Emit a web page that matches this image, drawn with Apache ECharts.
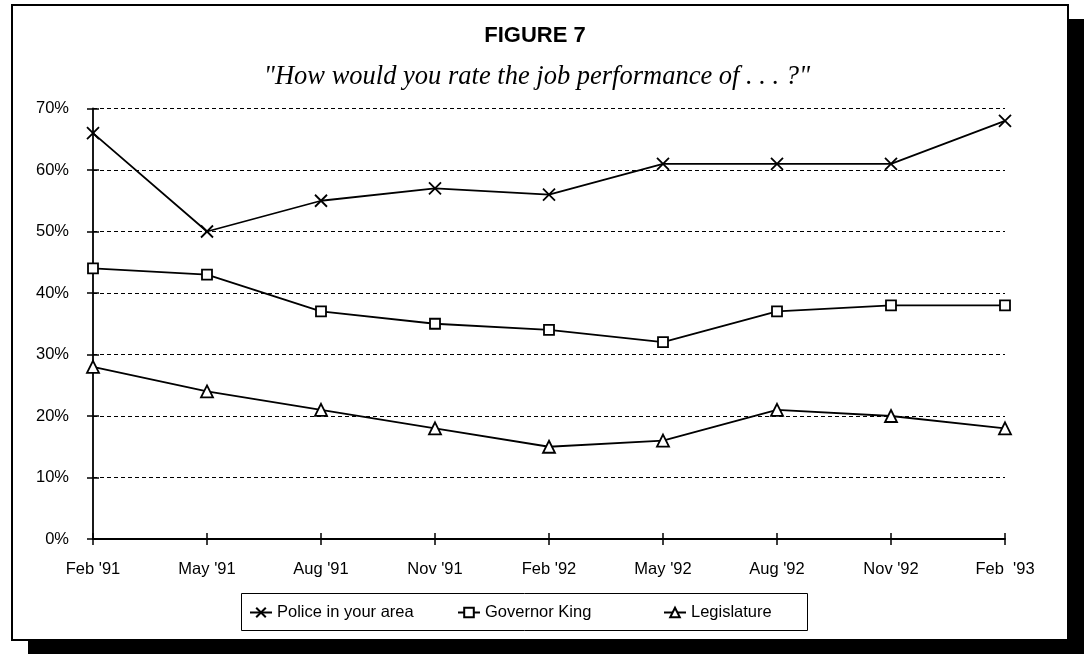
<!DOCTYPE html>
<html>
<head>
<meta charset="utf-8">
<script src="https://cdn.jsdelivr.net/npm/echarts@6/dist/echarts.min.js"></script>
<style>
html,body{margin:0;padding:0;background:#fff;}
#chart{width:1084px;height:654px;}
</style>
</head>
<body>
<div id="chart"></div>
<script>
const categories = ["Feb '91", "May '91", "Aug '91", "Nov '91", "Feb '92", "May '92", "Aug '92", "Nov '92", "Feb  '93"];
const police = [66, 50, 55, 57, 56, 61, 61, 61, 68];
const governor = [44, 43, 37, 35, 34, 32, 37, 38, 38];
const legislature = [28, 24, 21, 18, 15, 16, 21, 20, 18];
const seriesNames = ["Police in your area", "Governor King", "Legislature"];
const titleText = "FIGURE 7";
const subtitleText = "\"How would you rate the job performance of . . . ?\"";

const SANS = "'Liberation Sans', Arial, sans-serif";
const SERIF = "'Liberation Serif', 'Times New Roman', serif";
const FS = 16.5;

const chart = echarts.init(document.getElementById('chart'), null, {renderer: 'canvas'});

const crossPath = 'path://M0,0L10,10M10,0L0,10';
const trianglePath = 'path://M5,0L10,9L0,9Z';

function lineSeries(name, data, symbol, size) {
  return {
    name: name,
    type: 'line',
    data: data,
    xAxisIndex: 0,
    yAxisIndex: 0,
    symbol: symbol,
    symbolSize: size,
    showAllSymbol: true,
    lineStyle: {color: '#000', width: 1.8},
    itemStyle: {color: '#fff', borderColor: '#000', borderWidth: 1.8},
    emphasis: {disabled: true},
    animation: false,
    z: 3
  };
}

function legendAt(name, left) {
  return {
    data: [name],
    left: left,
    top: 604,
    itemWidth: 22,
    itemHeight: 12,
    padding: 0,
    textStyle: {color: '#000', fontSize: FS, fontFamily: SANS},
    selectedMode: false
  };
}

const option = {
  animation: false,
  graphic: [
    {type: 'rect', z: -20, shape: {x: 28, y: 19, width: 1056, height: 635}, style: {fill: '#000'}},
    {type: 'rect', z: -19, shape: {x: 12, y: 5, width: 1056, height: 635}, style: {fill: '#fff', stroke: '#000', lineWidth: 2}},
    {type: 'rect', z: -18, shape: {x: 241.5, y: 593.5, width: 566, height: 37}, style: {fill: '#fff', stroke: '#000', lineWidth: 1}},
    {type: 'text', z: 10, style: {text: titleText, x: 535, y: 36, fill: '#000', font: 'bold 22px ' + SANS, textAlign: 'center', textVerticalAlign: 'middle'}},
    {type: 'text', z: 10, style: {text: subtitleText, x: 537, y: 77, fill: '#000', font: 'italic 26.5px ' + SERIF, textAlign: 'center', textVerticalAlign: 'middle'}}
  ],
  legend: [
    legendAt(seriesNames[0], 249),
    legendAt(seriesNames[1], 457),
    legendAt(seriesNames[2], 663)
  ],
  grid: {left: 93, right: 79, top: 108.5, bottom: 115, containLabel: false},
  xAxis: [
    {
      type: 'category',
      data: categories,
      boundaryGap: false,
      axisLine: {show: true, lineStyle: {color: '#000', width: 1.8}},
      axisTick: {show: true, inside: false, length: 6, interval: 0, lineStyle: {color: '#000', width: 1.5}},
      axisLabel: {color: '#000', fontSize: FS, fontFamily: SANS, margin: 22, interval: 0},
      splitLine: {show: false}
    },
    {
      type: 'category',
      data: categories,
      boundaryGap: false,
      position: 'bottom',
      axisLine: {show: false},
      axisTick: {show: true, inside: true, length: 6, interval: 0, lineStyle: {color: '#000', width: 1.5}},
      axisLabel: {show: false},
      splitLine: {show: false}
    }
  ],
  yAxis: [
    {
      type: 'value',
      min: 0, max: 70, interval: 10,
      axisLine: {show: true, lineStyle: {color: '#000', width: 1.8}},
      axisTick: {show: true, inside: false, length: 6, lineStyle: {color: '#000', width: 1.5}},
      axisLabel: {color: '#000', fontSize: FS, fontFamily: SANS, margin: 24, formatter: '{value}%'},
      splitLine: {show: true, lineStyle: {color: '#000', width: 1.2, type: [4, 3]}}
    },
    {
      type: 'value',
      min: 0, max: 70, interval: 10,
      position: 'left',
      offset: 0,
      axisLine: {show: false},
      axisTick: {show: true, inside: true, length: 6, lineStyle: {color: '#000', width: 1.5}},
      axisLabel: {show: false},
      splitLine: {show: false}
    }
  ],
  series: [
    lineSeries(seriesNames[0], police, crossPath, 12),
    lineSeries(seriesNames[1], governor, 'rect', 10),
    lineSeries(seriesNames[2], legislature, trianglePath, 12)
  ]
};
chart.setOption(option);
</script>
</body>
</html>
